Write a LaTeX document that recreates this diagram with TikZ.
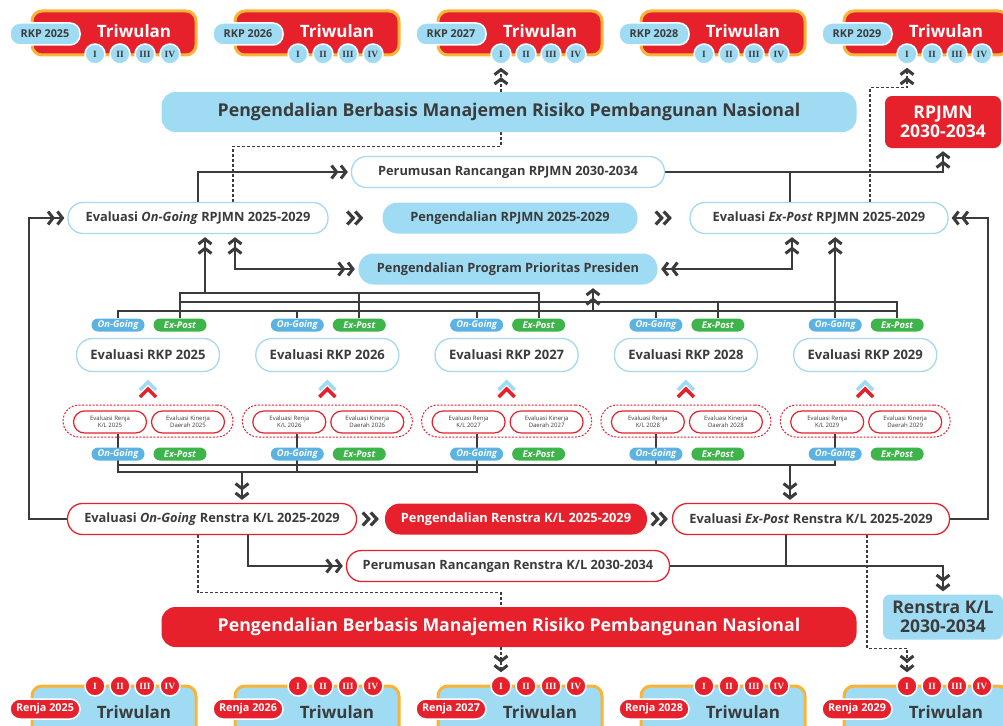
\documentclass[tikz,border=0pt]{standalone}
\usepackage{fontspec}
\setmainfont{Open Sans}
\newfontfamily\romfont{Liberation Serif}
\usetikzlibrary{arrows.meta,calc,positioning}
\pgfdeclarelayer{background}
\pgfsetlayers{background,main}
\definecolor{redA}{HTML}{E6212C}
\definecolor{orangeA}{HTML}{F9B437}
\definecolor{skyA}{HTML}{9FDCF4}
\definecolor{skyB}{HTML}{A6D8EF}
\definecolor{ink}{HTML}{3B3B3B}
\definecolor{ogblue}{HTML}{5BB3E4}
\definecolor{epgreen}{HTML}{3EB54A}
\tikzset{
  Chev/.tip={Straight Barb[length=5pt,width=13pt,line width=3pt,sep=1pt]Straight Barb[length=5pt,width=13pt,line width=3pt]}
}
\begin{document}
\begin{tikzpicture}[
    x=1pt, y=-1pt,
    every node/.style={align=center, inner sep=0pt},
    link/.style={draw=ink, line width=1.8pt},
    dashlink/.style={draw=ink, line width=1.3pt, dash pattern=on 3pt off 2pt},
    capsule/.style={rounded corners=15pt, minimum height=31pt, line width=1.3pt, font=\bfseries\fontsize{12.8}{14}\selectfont},
    wbox/.style={capsule, draw=skyB, fill=white, text=ink},
    bbox/.style={capsule, fill=skyA, text=ink},
    rwbox/.style={capsule, draw=redA, fill=white, text=ink},
    rfbox/.style={capsule, fill=redA, text=white},
    bar/.style={minimum width=695pt, minimum height=40pt, rounded corners=14pt, font=\bfseries\fontsize{17.7}{19}\selectfont},
    blk/.style={rounded corners=7pt, font=\bfseries\fontsize{17.5}{19}\selectfont},
    rkpbox/.style={minimum width=143pt, minimum height=33pt, rounded corners=16pt, line width=1.3pt, draw=skyB, fill=white, text=ink, font=\bfseries\fontsize{13}{14}\selectfont},
    grpbox/.style={minimum width=170pt, minimum height=32pt, rounded corners=16pt, draw=redA, line width=1pt, dash pattern=on 2pt off 1.5pt},
    smallbox/.style={minimum width=73pt, minimum height=22pt, rounded corners=11pt, draw=redA, line width=1.2pt, fill=white, text=ink, font=\fontsize{6}{7}\selectfont},
    tag/.style={minimum width=53pt, minimum height=13pt, rounded corners=6.5pt, text=white, font=\bfseries\itshape\fontsize{9.3}{10}\selectfont},
    ogpill/.style={tag, fill=ogblue},
    eppill/.style={tag, fill=epgreen},
    twbox/.style={minimum width=164pt, rounded corners=10pt, draw=orangeA, line width=3pt},
    yrpill/.style={minimum width=70pt, rounded corners=10pt, draw=white, line width=1.5pt, font=\bfseries\fontsize{10.8}{11}\selectfont},
    roman/.style={circle, minimum size=20pt, draw=white, line width=1.5pt, font=\romfont\bfseries\fontsize{9.5}{10}\selectfont},
    dchev/.pic={\draw[ink, line width=3.2pt] (-8,-6.5) -- (-2,0) -- (-8,6.5) (0,-6.5) -- (6,0) -- (0,6.5);},
    upchev/.pic={\draw[skyA, line width=3.5pt] (-8,2) -- (0,-6) -- (8,2); \draw[redA, line width=3.5pt] (-8,9) -- (0,1) -- (8,9);}
]
  \useasboundingbox (0,0) rectangle (1003,725);
  \clip (0,0) rectangle (1003,725);

  \foreach \yr [count=\i from 0] in {2025,2026,2027,2028,2029} {
    \node[twbox, fill=redA, minimum height=44pt] (tw\yr) at (114+203*\i,33) {};
    \node[text=white, font=\bfseries\fontsize{17}{18}\selectfont] (twt\yr) at (134+203*\i,31) {Triwulan};
    \node[yrpill, fill=skyA, text=ink, minimum height=22pt] (rkp\yr) at (45+203*\i,34) {RKP \yr};
    \foreach \r [count=\k] in {I,II,III,IV}
      \node[roman, fill=skyA, text=ink] (twc\yr-\k) at (70+25*\k+203*\i,54) {\r};
    \node[twbox, fill=skyA, minimum height=60pt] (bw\yr) at (114+203*\i,716) {};
    \node[text=ink, font=\bfseries\fontsize{17}{18}\selectfont] (bwt\yr) at (134+203*\i,712) {Triwulan};
    \node[yrpill, fill=redA, text=white, minimum height=20pt] (rjp\yr) at (45+203*\i,709) {Renja \yr};
    \foreach \r [count=\k] in {I,II,III,IV}
      \node[roman, fill=redA, text=white] (bwc\yr-\k) at (70+25*\k+203*\i,686) {\r};
  }

  \node[bar, fill=skyA, text=ink] (rmBar) at (509,112) {Pengendalian Berbasis Manajemen Risiko Pembangunan Nasional};
  \node[blk, fill=redA, text=white, minimum width=116pt, minimum height=52pt] (rpjmnNew) at (943,122) {RPJMN\\2030-2034};
  \node[wbox, minimum width=313pt] (perRP) at (508,172) {Perumusan Rancangan RPJMN 2030-2034};
  \node[wbox, minimum width=260pt] (evOG) at (198,218) {Evaluasi \textit{On-Going} RPJMN 2025-2029};
  \node[bbox, minimum width=255pt] (ctlRP) at (510,218) {Pengendalian RPJMN 2025-2029};
  \node[wbox, minimum width=258pt] (evEP) at (819,218) {Evaluasi \textit{Ex-Post} RPJMN 2025-2029};
  \node[bbox, minimum width=299pt] (ppp) at (508,269) {Pengendalian Program Prioritas Presiden};

  \foreach \yr [count=\i from 0] in {2025,2026,2027,2028,2029} {
    \pgfmathsetmacro\cx{148+179.3*\i}
    \node[ogpill] (og\i) at (\cx-30,325) {On-Going};
    \node[eppill] (ep\i) at (\cx+32,325) {Ex-Post};
    \node[rkpbox] (evrkp\i) at (\cx,355) {Evaluasi RKP \yr};
    \pic at (\cx,388) {upchev};
    \node[grpbox] (grp\i) at (\cx,421) {};
    \node[smallbox] (rnj\i) at (\cx-38,422) {Evaluasi Renja\\K/L \yr};
    \node[smallbox] (kin\i) at (\cx+40,422) {Evaluasi Kinerja\\Daerah \yr};
    \node[ogpill] (ogb\i) at (\cx-30,454) {On-Going};
    \node[eppill] (epb\i) at (\cx+32,454) {Ex-Post};
  }

  \node[rwbox, minimum width=289pt] (evOGR) at (212,519) {Evaluasi \textit{On-Going} Renstra K/L 2025-2029};
  \node[rfbox, minimum width=262pt] (ctlR) at (516,519) {Pengendalian Renstra K/L 2025-2029};
  \node[rwbox, minimum width=277pt] (evEPR) at (811,519) {Evaluasi \textit{Ex-Post} Renstra K/L 2025-2029};
  \node[rwbox, minimum width=323pt] (perR) at (508,566) {Perumusan Rancangan Renstra K/L 2030-2034};
  \node[blk, fill=skyA, text=ink, minimum width=120pt, minimum height=45pt] (renstraNew) at (943,617) {Renstra K/L\\2030-2034};
  \node[bar, fill=redA, text=white] (rmBarB) at (509,627) {Pengendalian Berbasis Manajemen Risiko Pembangunan Nasional};

  \pic at ($(evOG.east)!0.5!(ctlRP.west)$) {dchev};
  \pic at ($(ctlRP.east)!0.5!(evEP.west)$) {dchev};
  \pic at ($(evOGR.east)!0.5!(ctlR.west)$) {dchev};
  \pic at ($(ctlR.east)!0.5!(evEPR.west)$) {dchev};

  \coordinate (busA) at (0,293);
  \coordinate (busB) at (0,302);
  \coordinate (busC) at (0,311);
  \coordinate (busD) at (0,465);
  \coordinate (busE) at (0,472);
  \coordinate (epTop) at ([xshift=-29pt]evEP.north);
  \coordinate (ogDash) at ([xshift=35pt]evOG.north);
  \coordinate (epDash) at ([xshift=51pt]evEP.north);
  \coordinate (midTop) at (rmBar.south -| twc2027-1);
  \coordinate (ogPP) at ([xshift=37pt]evOG.south);
  \coordinate (epPP) at ([xshift=-27pt]evEP.south);
  \coordinate (ogUp) at ([xshift=7pt]evOG.south);
  \coordinate (pppUp) at ([xshift=85pt]ppp.south);
  \coordinate (ogDn) at ([xshift=30pt]evOGR.north);
  \coordinate (epDn) at ([xshift=-21pt]evEPR.north);
  \coordinate (ogRn) at ([xshift=36pt]evOGR.south);
  \coordinate (epRn) at ([xshift=-25pt]evEPR.south);
  \coordinate (ogRd) at ([xshift=-14pt]evOGR.south);
  \coordinate (midBot) at (rmBarB.north -| bwc2027-1);
  \coordinate (epRd) at ([xshift=56pt]evEPR.south);

  \begin{pgfonlayer}{background}
    \draw[link, -Chev, shorten >=3pt] (evOG.north) |- (perRP.west);
    \draw[link, -Chev, shorten >=3pt] (perRP.east) -| (rpjmnNew.south);
    \draw[link] (epTop) -- (epTop |- perRP.east);
    \draw[dashlink] (ogDash) |- ($(midTop)+(0,14)$) -- (midTop);
    \draw[dashlink, -Chev, shorten >=3pt] (rmBar.north -| twc2027-1) -- (twc2027-1.south);
    \draw[dashlink, -Chev, shorten >=3pt] (epDash) |- ($(twc2029-1.south)+(0,23)$) -- (twc2029-1.south);
    \draw[link, -Chev, shorten >=3pt] (evOGR.west) -- ++(-38,0) |- (evOG.west);
    \draw[link, -Chev, shorten >=3pt] (evEPR.east) -- ++(38,0) |- (evEP.east);
    \draw[link, Chev-Chev, shorten >=3pt, shorten <=3pt] (ogPP) |- (ppp.west);
    \draw[link, Chev-Chev, shorten >=3pt, shorten <=3pt] (epPP) |- (ppp.east);

    \draw[link] (ep0.north) |- (ep2.north |- busA) -- (ep2.north);
    \draw[link] (ep1.north) -- (ep1.north |- busA);
    \draw[link, -Chev, shorten >=3pt] (ogUp |- busA) -- (ogUp);
    \draw[link] (ep0.north |- busB) -| (ep4.north);
    \draw[link] (ep3.north) -- (ep3.north |- busB);
    \draw[link] (og0.north) |- (ep4.north |- busC);
    \foreach \i in {1,2,3}
      \draw[link] (og\i.north) -- (og\i.north |- busC);
    \draw[link, -Chev, shorten >=3pt] (og4.north) -- (og4.north |- evEP.south);
    \draw[link, -Chev, shorten >=3pt] (pppUp |- busC) -- (pppUp);

    \draw[link] (ogb0 |- rnj0.south) |- (ogb2 |- busE) -- (ogb2 |- rnj2.south);
    \draw[link] (ogb1 |- rnj1.south) -- (ogb1 |- busE);
    \draw[link] (ogb0 |- busD) -- (ogb4 |- busD) -- (ogb4 |- rnj4.south);
    \draw[link] (ogb3 |- rnj3.south) -- (ogb3 |- busD);
    \draw[link, -Chev, shorten >=3pt] (ogDn |- busE) -- (ogDn);
    \draw[link, -Chev, shorten >=3pt] (epDn |- busD) -- (epDn);

    \draw[link, -Chev, shorten >=3pt] (ogRn) |- (perR.west);
    \draw[link, -Chev, shorten >=3pt] (perR.east) -| (renstraNew.north);
    \draw[link] (epRn) -- (epRn |- perR.east);
    \draw[dashlink] (ogRd) |- ($(midBot)+(0,-14)$) -- (midBot);
    \draw[dashlink, -Chev, shorten >=3pt] (rmBarB.south -| bwc2027-1) -- (bwc2027-1.north);
    \draw[dashlink, -Chev, shorten >=3pt] (epRd) |- ($(bwc2029-1.north)+(0,-27)$) -- (bwc2029-1.north);
  \end{pgfonlayer}
\end{tikzpicture}
\end{document}
